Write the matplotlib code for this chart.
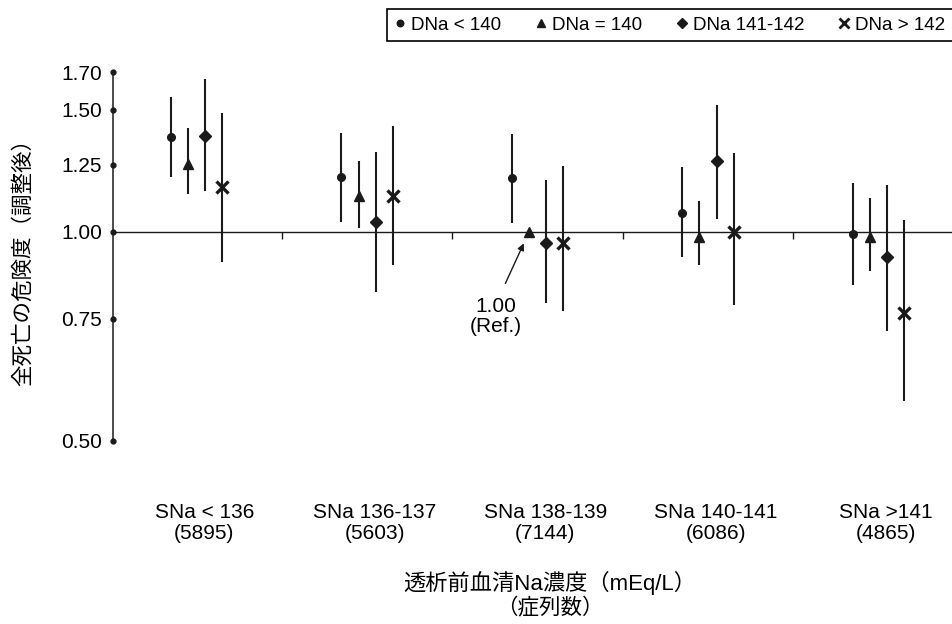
import matplotlib
matplotlib.use('Agg')
import matplotlib.pyplot as plt
import matplotlib.transforms as mtransforms
from matplotlib.lines import Line2D
from matplotlib.ticker import FixedLocator, NullLocator

plt.rcParams['font.family'] = ['Liberation Sans', 'Noto Sans CJK JP']

# categories
groups = ['SNa < 136', 'SNa 136-137', 'SNa 138-139', 'SNa 140-141', 'SNa >141']
counts = ['5895', '5603', '7144', '6086', '4865']
series = ['DNa < 140', 'DNa = 140', 'DNa 141-142', 'DNa > 142']

# hazard ratios with 95% CI, one list per DNa series, one value per SNa group
hr_lt140 = [1.37, 1.20, 1.195, 1.065, 0.995]
lo_lt140 = [1.20, 1.035, 1.03, 0.92, 0.84]
hi_lt140 = [1.565, 1.39, 1.385, 1.24, 1.175]

hr_eq140 = [1.255, 1.125, 1.00, 0.985, 0.985]
lo_eq140 = [1.135, 1.015, 1.00, 0.895, 0.88]
hi_eq140 = [1.41, 1.265, 1.00, 1.11, 1.12]

hr_141 = [1.375, 1.035, 0.965, 1.265, 0.92]
lo_141 = [1.145, 0.82, 0.79, 1.045, 0.72]
hi_141 = [1.66, 1.305, 1.19, 1.525, 1.17]

hr_gt142 = [1.16, 1.125, 0.965, 1.00, 0.765]
lo_gt142 = [0.905, 0.895, 0.77, 0.785, 0.57]
hi_gt142 = [1.485, 1.42, 1.245, 1.30, 1.04]

yticks = [0.50, 0.75, 1.00, 1.25, 1.50, 1.70]
yticklabels = ['0.50', '0.75', '1.00', '1.25', '1.50', '1.70']

ink = '#1a1a1a'

fig = plt.figure(figsize=(9.53, 6.24), dpi=100)
ax = fig.add_axes([113 / 953, 183 / 624, 840 / 953, 369 / 624])
ax.set_yscale('log')
ax.set_ylim(0.5, 1.7)
ax.set_xlim(-0.49, 4.437)

# series styles
est = [hr_lt140, hr_eq140, hr_141, hr_gt142]
los = [lo_lt140, lo_eq140, lo_141, lo_gt142]
his = [hi_lt140, hi_eq140, hi_141, hi_gt142]
markers = ['o', '^', 'D', 'x']
msizes = [5.5, 7, 6, 8]
offsets = [-0.15, -0.05, 0.05, 0.15]

for j in range(4):
    xs = [i + offsets[j] for i in range(len(groups))]
    yerr = [[e - l for e, l in zip(est[j], los[j])],
            [h - e for e, h in zip(est[j], his[j])]]
    ax.errorbar(xs, est[j], yerr=yerr, fmt=markers[j], color=ink, ecolor=ink,
                elinewidth=1.5, capsize=0, ms=msizes[j], mew=2.4 if markers[j] == 'x' else 1,
                zorder=3)

# spines: left axis + reference line at 1.00 with group separators
for s in ['top', 'right']:
    ax.spines[s].set_visible(False)
ax.spines['left'].set_linewidth(1.1)
ax.spines['left'].set_color(ink)
ax.spines['bottom'].set_position(('data', 1.0))
ax.spines['bottom'].set_linewidth(1.0)
ax.spines['bottom'].set_color(ink)
ax.set_xticks([i + 0.5 for i in range(len(groups) - 1)])
ax.tick_params(axis='x', direction='out', length=5, width=1, color=ink, labelbottom=False)

ax.yaxis.set_major_locator(FixedLocator(yticks))
ax.yaxis.set_minor_locator(NullLocator())
ax.set_yticklabels(yticklabels)
ax.tick_params(axis='y', length=3.5, width=1, pad=4.5, labelsize=15, color=ink)
for t in ax.yaxis.get_major_ticks():
    t.tick1line.set_marker('o')

# reference annotation
x_ref = 2 + offsets[1]
ax.annotate('', xy=(x_ref, 1.0), xytext=(-17, -37), textcoords='offset points',
            arrowprops=dict(arrowstyle='-|>', color=ink, lw=1.0, shrinkA=0, shrinkB=9,
                            mutation_scale=10))
ax.annotate('1.00\n(Ref.)', xy=(x_ref, 1.0), xytext=(-24, -61), textcoords='offset points',
            ha='center', va='center', fontsize=15, linespacing=1.05)

# group labels under the plot
trans = mtransforms.blended_transform_factory(ax.transData, fig.transFigure)
for i, (g, c) in enumerate(zip(groups, counts)):
    ax.text(i + 0.045, 1 - 523 / 624, g + '\n(' + c + ')', transform=trans,
            ha='center', va='center', fontsize=15, linespacing=1.1, clip_on=False)

fig.text(23 / 953, 1 - 257 / 624, '全死亡の危険度（調整後）', rotation=90,
         ha='center', va='center', fontsize=15.5)
fig.text(550 / 953, 1 - 583 / 624, '透析前血清Na濃度（mEq/L）', ha='center', va='center', fontsize=16)
fig.text(550 / 953, 1 - 609 / 624, '（症列数）', ha='center', va='center', fontsize=15.5)

# legend
handles = [Line2D([], [], marker=m, linestyle='none', color=ink, ms=s * 0.85,
                  mew=2 if m == 'x' else 1) for m, s in zip(markers, msizes)]
leg = fig.legend(handles, series, loc='upper left', bbox_to_anchor=(387 / 953, 1 - 9 / 624),
                 ncol=4, frameon=True, fancybox=False, edgecolor='black', framealpha=1,
                 fontsize=13.5, handlelength=0.6, handletextpad=0.3, columnspacing=1.8,
                 borderpad=0.4, borderaxespad=0)
leg.get_frame().set_linewidth(1.2)

fig.savefig('out.png', dpi=100)
